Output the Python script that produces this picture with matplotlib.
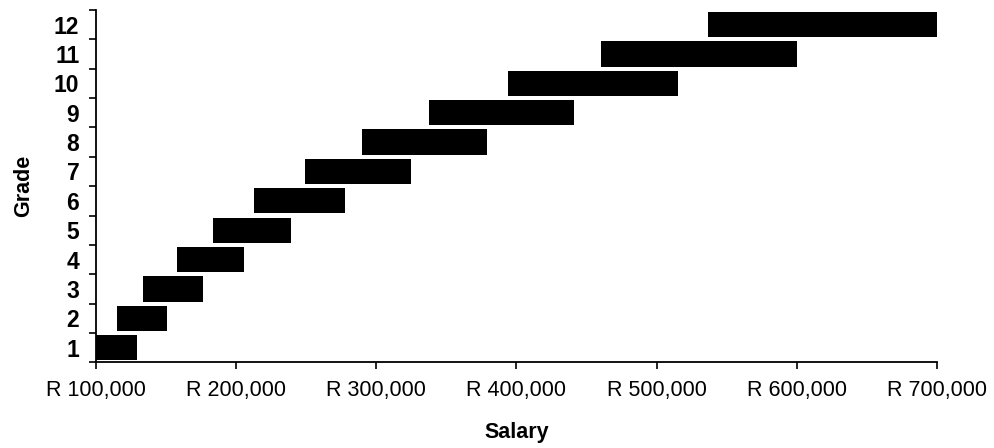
import numpy as np
import matplotlib.pyplot as plt
from matplotlib.ticker import FuncFormatter

# 数据：每个等级的薪资区间（最低 / 最高）
grades = [1, 2, 3, 4, 5, 6, 7, 8, 9, 10, 11, 12]
salary_min = [100000, 115000, 133500, 158000, 183500, 212500, 249000, 290000, 337500, 394000, 460000, 537000]
salary_max = [129000, 151000, 176000, 205500, 239000, 278000, 325000, 379000, 441000, 515000, 600000, 700000]
x_ticks = [100000, 200000, 300000, 400000, 500000, 600000, 700000]

plt.rcParams["font.family"] = ["Liberation Sans", "DejaVu Sans"]

fig = plt.figure(figsize=(9.94, 4.48), dpi=100)
ax = fig.add_axes([0.0966, 0.191, 0.846, 0.787])

widths = np.array(salary_max) - np.array(salary_min)
ax.barh(grades, widths, left=salary_min, height=0.86, color="black")

ax.set_xlim(100000, 700000)
ax.set_ylim(0.5, 12.5)

ax.set_xticks(x_ticks)
ax.xaxis.set_major_formatter(FuncFormatter(lambda v, p: f"R {v:,.0f}"))
ax.tick_params(axis="x", labelsize=15.5, length=5, width=1.2, pad=8)

# y 轴：刻度线在格子边界，标签放在格子中间
ax.set_yticks(np.arange(0.5, 13, 1))
ax.set_yticklabels([])
ax.set_yticks(grades, minor=True)
ax.set_yticklabels([str(g) for g in grades], minor=True, fontsize=16.5, fontweight="bold")
ax.tick_params(axis="y", which="major", length=5, width=1.2)
ax.tick_params(axis="y", which="minor", length=0, pad=12)

for side in ["top", "right"]:
    ax.spines[side].set_visible(False)
for side in ["left", "bottom"]:
    ax.spines[side].set_linewidth(1.3)

ax.set_xlabel("Salary", fontsize=15.5, fontweight="bold", labelpad=15)
ax.set_ylabel("Grade", fontsize=15.5, fontweight="bold", labelpad=14)

fig.savefig("out.png", dpi=100)
